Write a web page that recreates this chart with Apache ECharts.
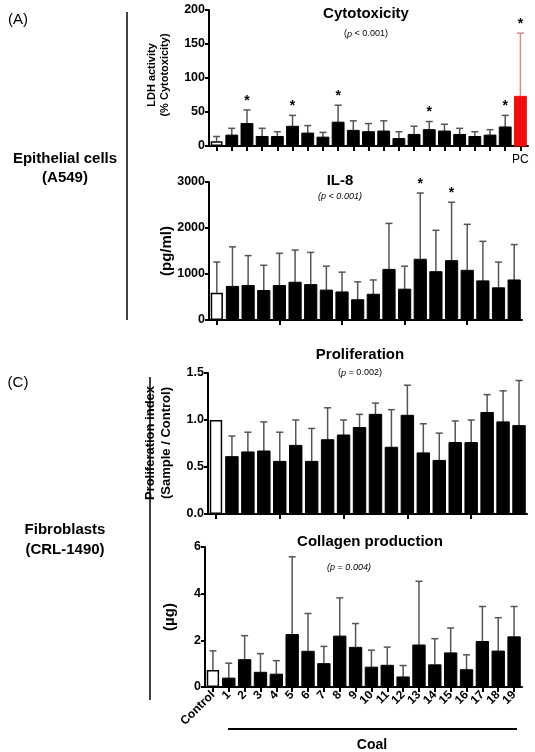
<!DOCTYPE html>
<html><head><meta charset="utf-8">
<script src="https://cdn.jsdelivr.net/npm/echarts@6/dist/echarts.min.js"></script>
<style>html,body{margin:0;padding:0;background:#fff}#c{width:535px;height:752px}</style>
</head><body><div id="c"></div>
<script>
const coalCats = ['Control','1','2','3','4','5','6','7','8','9','10','11','12','13','14','15','16','17','18','19'];
const cytoCats = coalCats.concat(['PC']);
const cytoMean = [7,16,33,14,14,29,19,13,35,23,21,22,11,17,24,22,17,14,16,28,73];
const cytoErr  = [14,26,53,26,21,45,30,20,60,37,33,37,21,29,36,32,26,21,24,45,166];
const cytoStar = [2,5,8,14,19,20];
const il8Mean = [590,730,750,640,750,820,770,650,610,440,560,1100,670,1320,1050,1290,1080,850,700,870];
const il8Err  = [1260,1590,1400,1190,1450,1520,1470,1170,1040,830,870,2100,1170,2760,1950,2560,2080,1710,1260,1640];
const il8Star = [13,15];
const proMean = [1.0,0.61,0.66,0.67,0.56,0.73,0.56,0.79,0.84,0.92,1.06,0.71,1.05,0.65,0.57,0.76,0.76,1.08,0.98,0.94];
const proErr  = [null,0.83,0.87,0.98,0.87,1.0,0.91,1.13,1.0,1.06,1.18,1.11,1.37,0.96,0.86,0.99,1.0,1.27,1.31,1.42];
const colMean = [0.73,0.38,1.17,0.63,0.55,2.25,1.53,1.0,2.18,1.7,0.85,0.93,0.43,1.8,0.95,1.46,0.74,1.95,1.54,2.15];
const colErr  = [1.55,1.02,2.2,1.43,1.13,5.58,3.15,1.74,3.82,2.72,1.58,1.71,0.92,4.53,2.07,2.53,1.38,3.45,2.97,3.45];

const FF = 'Liberation Sans, Arial, sans-serif';
const chart = echarts.init(document.getElementById('c'));
const grids = [
  {left:209, top:10, width:319, height:136},
  {left:209, top:182, width:313, height:138},
  {left:208, top:373, width:319, height:141},
  {left:205, top:547, width:317, height:140}
];
const yCfg = [
  {max:200, interval:50, fmt:v=>v},
  {max:3000, interval:1000, fmt:v=>v},
  {max:1.5, interval:0.5, fmt:v=>v.toFixed(1)},
  {max:6, interval:2, fmt:v=>v}
];
const cats = [cytoCats, coalCats, coalCats, coalCats];
const means = [cytoMean, il8Mean, proMean, colMean];
const errs = [cytoErr, il8Err, proErr, colErr];
const stars = [cytoStar, il8Star, [], []];

const xAxis = cats.map((c,i)=>({
  type:'category', gridIndex:i, data:c,
  axisLine:{lineStyle:{color:'#000', width:2}},
  axisTick:{show:true, alignWithLabel:true, length:5, lineStyle:{color:'#000', width:2}},
  axisLabel: i===3 ? {show:true, rotate:45, interval:0, fontFamily:FF, fontWeight:'bold', fontSize:12, color:'#000', margin:6}
           : (i===0 ? {show:true, interval:0, fontFamily:FF, fontSize:12, color:'#000', margin:8, formatter:v=>v==='PC'?'PC':''} : {show:false})
}));
const yAxis = yCfg.map((y,i)=>({
  type:'value', gridIndex:i, min:0, max:y.max, interval:y.interval,
  splitLine:{show:false},
  axisLine:{show:true, lineStyle:{color:'#000', width:2}},
  axisTick:{show:true, length:4, lineStyle:{color:'#000', width:2}},
  axisLabel:{fontFamily:FF, fontWeight:'bold', fontSize:12.5, color:'#000', margin:4, formatter:y.fmt}
}));
const series = [];
for (let i=0;i<4;i++){
  series.push({
    type:'bar', xAxisIndex:i, yAxisIndex:i, barCategoryGap:'22%',
    data: means[i].map((v,k)=>{
      const name = cats[i][k];
      if (name==='Control') return {value:v, itemStyle:{color:'#fff', borderColor:'#000', borderWidth:1.5}};
      if (name==='PC') return {value:v, itemStyle:{color:'#f20d0d', borderColor:'#f20d0d'}};
      return {value:v, itemStyle:{color:'#000', borderColor:'#000'}};
    }), z:3
  });
  const st = stars[i];
  series.push({
    type:'custom', xAxisIndex:i, yAxisIndex:i, z:2,
    data: means[i].map((v,k)=>[k, v, errs[i][k]]),
    renderItem:(params, api)=>{
      const k = api.value(0), m = api.value(1), e = api.value(2);
      const children = [];
      const isPC = cats[i][k]==='PC';
      const col = isPC ? '#d88' : '#555';
      if (e!=null && !isNaN(e)){
        const p0 = api.coord([k, m]), p1 = api.coord([k, e]);
        children.push({type:'line', shape:{x1:p0[0], y1:p0[1], x2:p1[0], y2:p1[1]}, style:{stroke:col, lineWidth:1.5}});
        children.push({type:'line', shape:{x1:p1[0]-3.5, y1:p1[1], x2:p1[0]+3.5, y2:p1[1]}, style:{stroke:col, lineWidth:1.5}});
        if (st.indexOf(k)>=0){
          children.push({type:'text', x:p1[0], y:p1[1]-2, style:{text:'*', fill:'#000', font:'bold 14px '+FF, align:'center', verticalAlign:'bottom'}});
        }
      }
      return {type:'group', children};
    }
  });
}
function txt(x,y,t,font,opts){return Object.assign({type:'text', x, y, style:{text:t, font:font, fill:'#000', align:'center', verticalAlign:'middle'}}, opts||{});}
const R = -Math.PI/2;
const graphic = [
  txt(18,20,'(A)','15px '+FF),
  txt(18,383,'(C)','15px '+FF),
  txt(65,168,'Epithelial cells\n(A549)','bold 15px '+FF,{style:{text:'Epithelial cells\n(A549)', font:'bold 15px '+FF, fill:'#000', align:'center', verticalAlign:'middle', lineHeight:19}}),
  txt(65,540,'Fibroblasts\n(CRL-1490)','bold 15px '+FF,{style:{text:'Fibroblasts\n(CRL-1490)', font:'bold 15px '+FF, fill:'#000', align:'center', verticalAlign:'middle', lineHeight:20}}),
  {type:'line', shape:{x1:127,y1:12,x2:127,y2:320}, style:{stroke:'#000', lineWidth:1.5}},
  {type:'line', shape:{x1:150,y1:377,x2:150,y2:700}, style:{stroke:'#000', lineWidth:1.5}},
  txt(366,14,'Cytotoxicity','bold 15px '+FF),
  {type:'text', x:366, y:34, style:{rich:{i:{font:'italic 9px '+FF, fill:'#000'}, n:{font:'9px '+FF, fill:'#000'}}, text:'{n|(}{i|p}{n| < 0.001)}', align:'center', verticalAlign:'middle'}},
  txt(340,181,'IL-8','bold 15px '+FF),
  {type:'text', x:340, y:196, style:{rich:{i:{font:'italic 9px '+FF, fill:'#000'}}, text:'{i|(p < 0.001)}', align:'center', verticalAlign:'middle'}},
  txt(360,355,'Proliferation','bold 15px '+FF),
  {type:'text', x:360, y:373, style:{rich:{i:{font:'italic 9px '+FF, fill:'#000'}, n:{font:'9px '+FF, fill:'#000'}}, text:'{n|(}{i|p}{n| = 0.002)}', align:'center', verticalAlign:'middle'}},
  txt(370,542,'Collagen production','bold 15px '+FF),
  {type:'text', x:349, y:567, style:{rich:{i:{font:'italic 9px '+FF, fill:'#000'}}, text:'{i|(p = 0.004)}', align:'center', verticalAlign:'middle'}},
  {type:'text', x:158, y:75, rotation:-R, style:{text:'LDH activity\n(% Cytotoxicity)', font:'bold 11px '+FF, fill:'#000', align:'center', verticalAlign:'middle', lineHeight:13}},
  {type:'text', x:167, y:251, rotation:-R, style:{text:'(pg/ml)', font:'bold 15px '+FF, fill:'#000', align:'center', verticalAlign:'middle'}},
  {type:'text', x:158, y:443, rotation:-R, style:{text:'Proliferation index\n(Sample / Control)', font:'bold 13px '+FF, fill:'#000', align:'center', verticalAlign:'middle', lineHeight:16}},
  {type:'text', x:170, y:617, rotation:-R, style:{text:'(µg)', font:'bold 15px '+FF, fill:'#000', align:'center', verticalAlign:'middle'}},
  {type:'line', shape:{x1:228,y1:729,x2:517,y2:729}, style:{stroke:'#000', lineWidth:2}},
  txt(372,745,'Coal','bold 14px '+FF)
];
chart.setOption({animation:false, grid:grids, xAxis, yAxis, series, graphic});
</script></body></html>
